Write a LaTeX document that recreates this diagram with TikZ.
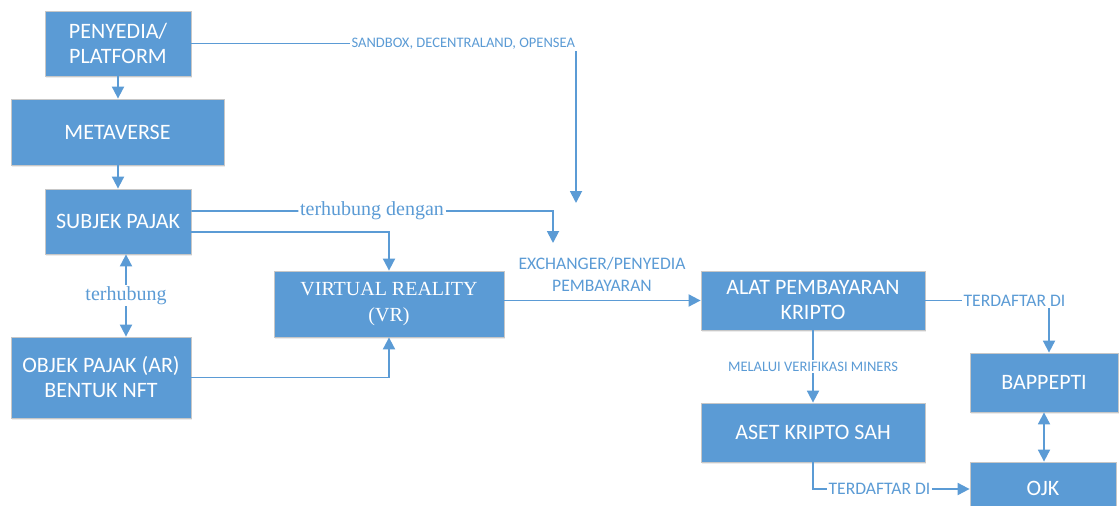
\documentclass[tikz,border=0pt]{standalone}
\usepackage{fontspec}
\setmainfont{Liberation Serif}
\setsansfont{Carlito}
\usetikzlibrary{arrows.meta,shadows}
\definecolor{biru}{HTML}{5B9BD5}
\begin{document}
\begin{tikzpicture}[x=0.75pt,y=-0.75pt,
    kotak/.style={draw=black!22,line width=0.6pt,fill=biru,text=white,align=center,inner sep=0pt,
      drop shadow={shadow xshift=0.6pt,shadow yshift=-1.2pt,opacity=0.15},
      font=\sffamily\fontsize{16.5}{18.75}\selectfont},
    garis/.style={draw=biru,line width=1.4pt},
    panah/.style={garis,-{Triangle[length=9pt,width=9pt]}},
    duapanah/.style={garis,{Triangle[length=9pt,width=9pt]}-{Triangle[length=9pt,width=9pt]}},
    ket/.style={text=biru,fill=white,inner sep=1pt,align=center},
    kecil/.style={font=\sffamily\fontsize{10.9}{13}\selectfont},
    sedang/.style={font=\sffamily\fontsize{13.2}{16.5}\selectfont},
    serif/.style={font=\rmfamily\fontsize{15}{18}\selectfont}]
        \useasboundingbox (0,0) rectangle (1119,506);
        \clip (0,0) rectangle (1119,506);
        \node[kotak,minimum width=109.5pt,minimum height=48.75pt] (penyedia) at (118,43.5) {PENYEDIA/\\PLATFORM};
        \node[kotak,minimum width=159.75pt,minimum height=49.5pt] (metaverse) at (117.5,132) {METAVERSE};
        \node[kotak,minimum width=109.5pt,minimum height=48.75pt] (subjek) at (118,221.5) {SUBJEK PAJAK};
        \node[kotak,minimum width=135pt,minimum height=60.75pt] (objek) at (101,377.5) {OBJEK PAJAK (AR)\\BENTUK NFT};
        \node[kotak,minimum width=172.5pt,minimum height=49.5pt,font=\rmfamily\fontsize{15}{19.5}\selectfont] (vr) at (389,304) {VIRTUAL REALITY\\(VR)};
        \node[kotak,minimum width=168pt,minimum height=44.25pt] (alat) at (813,300.5) {ALAT PEMBAYARAN\\KRIPTO};
        \node[kotak,minimum width=168pt,minimum height=44.25pt] (aset) at (813,432.5) {ASET KRIPTO SAH};
        \node[kotak,minimum width=111pt,minimum height=44.25pt] (bappepti) at (1044,382.5) {BAPPEPTI};
        \node[kotak,minimum width=109.5pt,minimum height=39pt] (ojk) at (1043,488) {OJK};

        \node[ket,kecil,anchor=west] (sandbox) at (350,44) {SANDBOX, DECENTRALAND, OPENSEA};
        \node[ket,serif] (dengan) at (372,211) {terhubung dengan};
        \node[ket,sedang,fill=none] (exchanger) at (602,274) {EXCHANGER/PENYEDIA\\PEMBAYARAN};
        \node[ket,sedang] (daftar1) at (1014.5,301) {TERDAFTAR DI};
        \node[ket,sedang] (daftar2) at (879.5,489) {TERDAFTAR DI};
        \coordinate (tuju1) at (576,203);
        \coordinate (tuju2) at (553,243);
        \coordinate (kol1) at (126,0);
        \coordinate (kol2) at (1049,0);

        \draw[panah] (penyedia.south) -- (penyedia.south |- metaverse.north);
        \draw[panah] (subjek.north |- metaverse.south) -- (subjek.north);
        \draw[duapanah] (subjek.south -| kol1) -- node[ket,serif] {terhubung} (objek.north -| kol1);
        \draw[garis] (penyedia.east) -- (penyedia.east -| sandbox.west);
        \draw[panah] (sandbox.south -| tuju1) -- (tuju1);
        \draw[garis] ([yshift=7.9pt]subjek.east) -- (dengan.west);
        \draw[panah] (dengan.east) -| (tuju2);
        \draw[panah] ([yshift=-7.9pt]subjek.east) -| (vr.north);
        \draw[panah] (objek.east) -| (vr.south);
        \draw[panah] (vr.east |- alat.west) -- (alat.west);
        \draw[garis] (alat.east) -- (alat.east -| daftar1.west);
        \draw[panah] (daftar1.south -| kol2) -- (kol2 |- bappepti.north);
        \draw[panah] (alat.south) -- node[ket,kecil] {MELALUI VERIFIKASI MINERS} (aset.north);
        \draw[garis] (aset.south) |- (daftar2.west);
        \draw[panah] (daftar2.east) -- (daftar2.east -| ojk.west);
        \draw[duapanah] (bappepti.south) -- (bappepti.south |- ojk.north);
    \end{tikzpicture}
\end{document}
